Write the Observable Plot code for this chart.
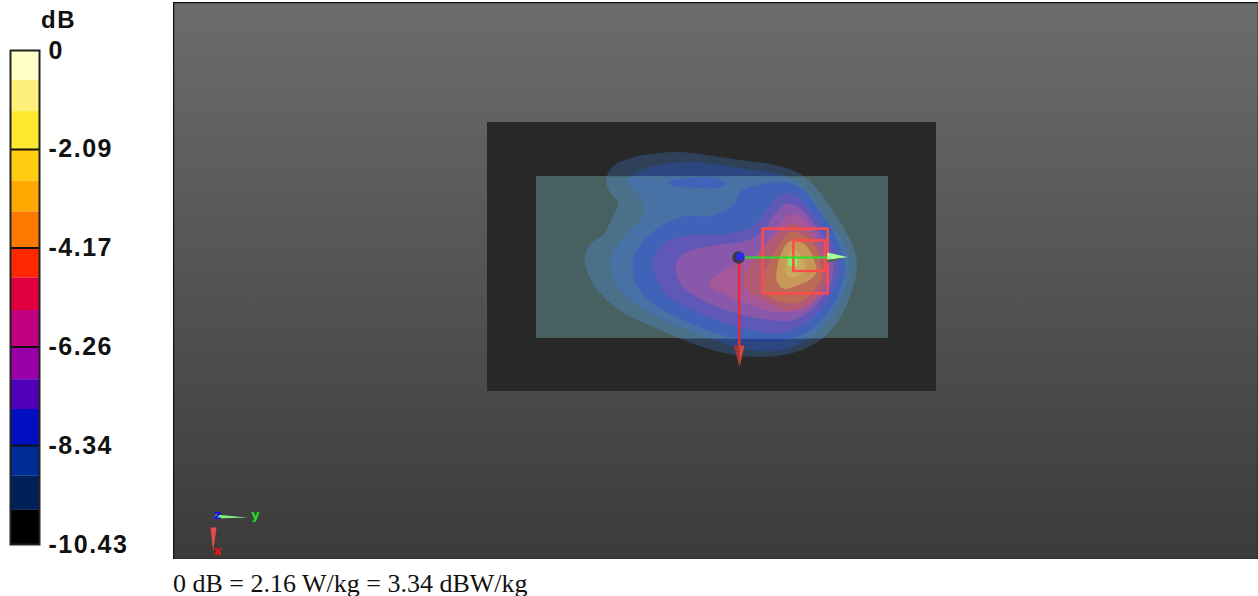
<!DOCTYPE html>
<html>
<head>
<meta charset="utf-8">
<script src="https://cdn.jsdelivr.net/npm/d3@7"></script>
<script src="https://cdn.jsdelivr.net/npm/@observablehq/plot@0.6"></script>
<style>
html,body{margin:0;padding:0;background:#fff;overflow:hidden}
#row{display:flex;align-items:flex-start;height:559px}
#scene{margin-top:2px}
#cap{font-family:"Liberation Serif",serif;font-size:26px;margin-left:173px;margin-top:12px;color:#111;line-height:26px;white-space:nowrap}
svg{display:block}
</style>
</head>
<body>
<div id="row"><div id="bar"></div><div id="scene"></div></div>
<div id="cap">0 dB = 2.16 W/kg = 3.34 dBW/kg</div>
<script>
// Colour bar
const bandEdges = [0,-0.626,-1.29,-2.09,-2.76,-3.41,-4.17,-4.80,-5.49,-6.26,-6.95,-7.58,-8.34,-8.99,-9.71,-10.43];
const bandColors = ["#ffffc8","#fff07c","#ffe830","#ffcc10","#ffa800","#ff7800","#ff2800","#e00040","#c00080","#9800a8","#5000b8","#0010c0","#002c96","#00205a","#000000"];
const dbTicks = [0,-2.09,-4.17,-6.26,-8.34,-10.43];

// Scene geometry, in scene units
const sceneX = [-1191,2064];
const sceneY = [-414,1257];
const phantomOuter = {x1:-249,x2:1098,y1:-54,y2:753};
const phantomInner = {x1:-102,x2:954,y1:108,y2:594};
const scanSquares = [{x1:578,x2:773,y1:266,y2:460},{x1:670,x2:764,y1:301,y2:393}];
const feed = [504,351];

const level1 = [[340,35],[420,45],[520,60],[620,75],[690,100],[740,145],[790,215],[830,280],[855,340],[858,390],[845,450],[810,530],[760,590],[690,630],[600,648],[520,647],[430,630],[360,607],[300,582],[220,547],[150,512],[100,470],[65,425],[42,350],[60,310],[100,280],[130,220],[143,190],[115,150],[107,115],[130,75],[190,50],[260,38]];
const level2 = [[340,65],[420,70],[520,85],[620,100],[680,125],[725,170],[770,240],[810,290],[835,350],[835,400],[815,470],[775,540],[720,590],[640,628],[530,628],[430,597],[330,560],[240,517],[170,472],[135,430],[122,380],[125,340],[160,290],[215,230],[220,190],[185,140],[170,120],[200,95],[260,75]];
const level3 = [[515,150],[580,130],[650,125],[700,150],[745,210],[785,270],[815,340],[822,390],[800,470],[760,530],[700,580],[620,602],[520,597],[430,575],[340,540],[270,505],[215,460],[190,410],[190,350],[240,280],[330,230],[430,225],[490,190]];
const level3b = [[295,125],[350,113],[430,112],[465,130],[440,142],[350,140],[310,138]];
const level4 = [[650,158],[700,185],[745,245],[785,310],[805,370],[790,440],[750,510],[690,555],[630,578],[560,572],[470,550],[370,510],[290,465],[255,410],[247,360],[280,310],[350,285],[470,280],[550,255],[580,220],[610,180]];
const level5 = [[650,190],[690,205],[730,250],[770,320],[790,375],[775,440],[730,500],[670,538],[570,535],[470,510],[380,470],[330,430],[315,380],[340,340],[430,315],[530,300],[580,270],[610,225]];
const level6 = [[665,220],[705,240],[745,300],[775,365],[775,400],[750,460],[700,505],[620,515],[540,495],[470,465],[415,430],[450,395],[500,365],[560,340],[600,290],[630,250]];
const level7 = [[665,250],[710,270],[745,320],[770,395],[755,450],[710,495],[650,510],[580,480],[530,450],[520,410],[560,350],[620,280]];
const level8 = [[660,275],[700,285],[735,320],[750,370],[755,410],[725,455],[690,485],[650,488],[610,478],[578,450],[580,410],[600,360],[630,305]];
const level9 = [[665,300],[700,310],[725,345],[738,395],[715,420],[680,435],[640,445],[620,425],[618,395],[628,350],[645,315]];
const level10 = [[665,325],[690,345],[705,380],[680,408],[650,405],[645,370]];
const levels = [level1,level2,level3,level3b,level4,level5,level6,level7,level8,level9,level10];
const onPhantom = ["#4a708a","#4872a6","#4062b8","#4062b8","#6058b6","#8a58aa","#a4589a","#b05a74","#bc6a58","#c89858","#c8ac5e"];
const onDark = ["#2f4158","#2c4680","#24409a"];

// Field-probe arrows
const yShaft = [[504,351],[770,351]];
const xShaft = [[506,351],[506,615]];
const yConeTop = [[770,336],[833,350],[770,358]];
const yConeLow = [[770,358],[833,350],[770,367]];
const xConeL = [[490,615],[506,615],[507,680]];
const xConeR = [[506,615],[522,615],[507,680]];
const hotBars = [{x1:655,x2:668,y1:350,y2:378},{x1:675,x2:682,y1:352,y2:378}];

// Orientation triad
const triadY = [[-1065,1122],[-969,1131],[-1065,1134]];
const triadX = [[-1080,1161],[-1062,1161],[-1072,1233]];
const triadLabels = [{t:"y",x:-945,y:1122,c:"#22e022"},{t:"x",x:-1059,y:1230,c:"#ee1111"},{t:"z",x:-1059,y:1122,c:"#1111ee"}];

const bars = bandColors.map((c,i)=>({c,top:bandEdges[i],bottom:bandEdges[i+1]}));
const barPlot = Plot.plot({
  width:173,height:559,marginTop:50,marginBottom:15,marginLeft:10,marginRight:134,
  x:{domain:[0,1],axis:null},
  y:{domain:[-10.43,0]},
  style:{background:"transparent",overflow:"visible",letterSpacing:"1.5px"},
  marks:[
    Plot.rectY(bars,{x1:0,x2:1,y1:"top",y2:"bottom",fill:d=>d.c}),
    Plot.ruleY(dbTicks.slice(1,-1),{stroke:"#111",strokeWidth:2}),
    Plot.frame({stroke:"#222",strokeWidth:2}),
    Plot.axisY({anchor:"right",ticks:dbTicks,tickSize:0,tickPadding:9,tickFormat:d=>String(d),label:null,
      fontFamily:"Liberation Sans",fontWeight:"bold",fontSize:25,fill:"#111"}),
    Plot.text(["dB"],{x:1,y:0,dx:19,dy:-30,text:d=>d,fontFamily:"Liberation Sans",fontWeight:"bold",fontSize:24,fill:"#111",textAnchor:"middle"})
  ]
});
document.getElementById("bar").append(barPlot);

const poly = (pts,fill,curve,className)=>Plot.line(pts,{x:d=>d[0],y:d=>d[1],fill,stroke:"none",curve,className});
const scene = Plot.plot({
  width:1085,height:557,margin:0,
  x:{domain:sceneX,axis:null},
  y:{domain:sceneY,reverse:true,axis:null},
  style:{background:"linear-gradient(#6c6c6c,#3b3b3b)"},
  marks:[
    Plot.rect([phantomOuter],{x1:"x1",x2:"x2",y1:"y1",y2:"y2",fill:"#282828"}),
    ...[level1,level2,level3].map((l,i)=>poly(l,onDark[i],"catmull-rom-closed","ondark")),
    Plot.rect([phantomInner],{x1:"x1",x2:"x2",y1:"y1",y2:"y2",fill:"#48605f"}),
    ...levels.map((l,i)=>poly(l,onPhantom[i],"catmull-rom-closed","contour")),
    Plot.rect(hotBars,{x1:"x1",x2:"x2",y1:"y1",y2:"y2",fill:"#88f070"}),
    Plot.rect(scanSquares,{x1:"x1",x2:"x2",y1:"y1",y2:"y2",fill:"none",stroke:"#ff4a4a",strokeWidth:2.4}),
    Plot.line(yShaft,{x:d=>d[0],y:d=>d[1],stroke:"#2ee02e",strokeWidth:2}),
    Plot.line(xShaft,{x:d=>d[0],y:d=>d[1],stroke:"#e8283c",strokeWidth:2.4}),
    poly(yConeTop,"#a8ff98","linear-closed","cone"),
    poly(yConeLow,"#4f6a50","linear-closed","cone"),
    poly(xConeL,"#a03838","linear-closed","cone"),
    poly(xConeR,"#d84838","linear-closed","cone"),
    Plot.dot([feed],{x:d=>d[0],y:d=>d[1],r:6.2,fill:"#3a3a48"}),
    Plot.dot([feed],{x:d=>d[0]+5,y:d=>d[1]-3,r:4,fill:"#2b2bf0"}),
    poly(triadY,"#80f080","linear-closed","triad"),
    poly(triadX,"#e84a4a","linear-closed","triad"),
    Plot.text(triadLabels,{x:"x",y:"y",text:"t",fill:"c",fontFamily:"DejaVu Sans",fontSize:13,fontWeight:"bold"}),
    Plot.frame({stroke:"#111",strokeWidth:1.5})
  ]
});
// Contours on the phantom are limited to the inner phantom panel
const sx = scene.scale("x"), sy = scene.scale("y");
const ns = "http://www.w3.org/2000/svg";
const defs = document.createElementNS(ns,"defs");
const cp = document.createElementNS(ns,"clipPath"); cp.setAttribute("id","phantomClip");
const cr = document.createElementNS(ns,"rect");
cr.setAttribute("x",sx.apply(phantomInner.x1));cr.setAttribute("y",sy.apply(phantomInner.y1));
cr.setAttribute("width",sx.apply(phantomInner.x2)-sx.apply(phantomInner.x1));
cr.setAttribute("height",sy.apply(phantomInner.y2)-sy.apply(phantomInner.y1));
cp.append(cr);defs.append(cp);scene.prepend(defs);
scene.querySelectorAll(".contour").forEach(g=>g.setAttribute("clip-path","url(#phantomClip)"));
document.getElementById("scene").append(scene);
</script>
</body>
</html>
